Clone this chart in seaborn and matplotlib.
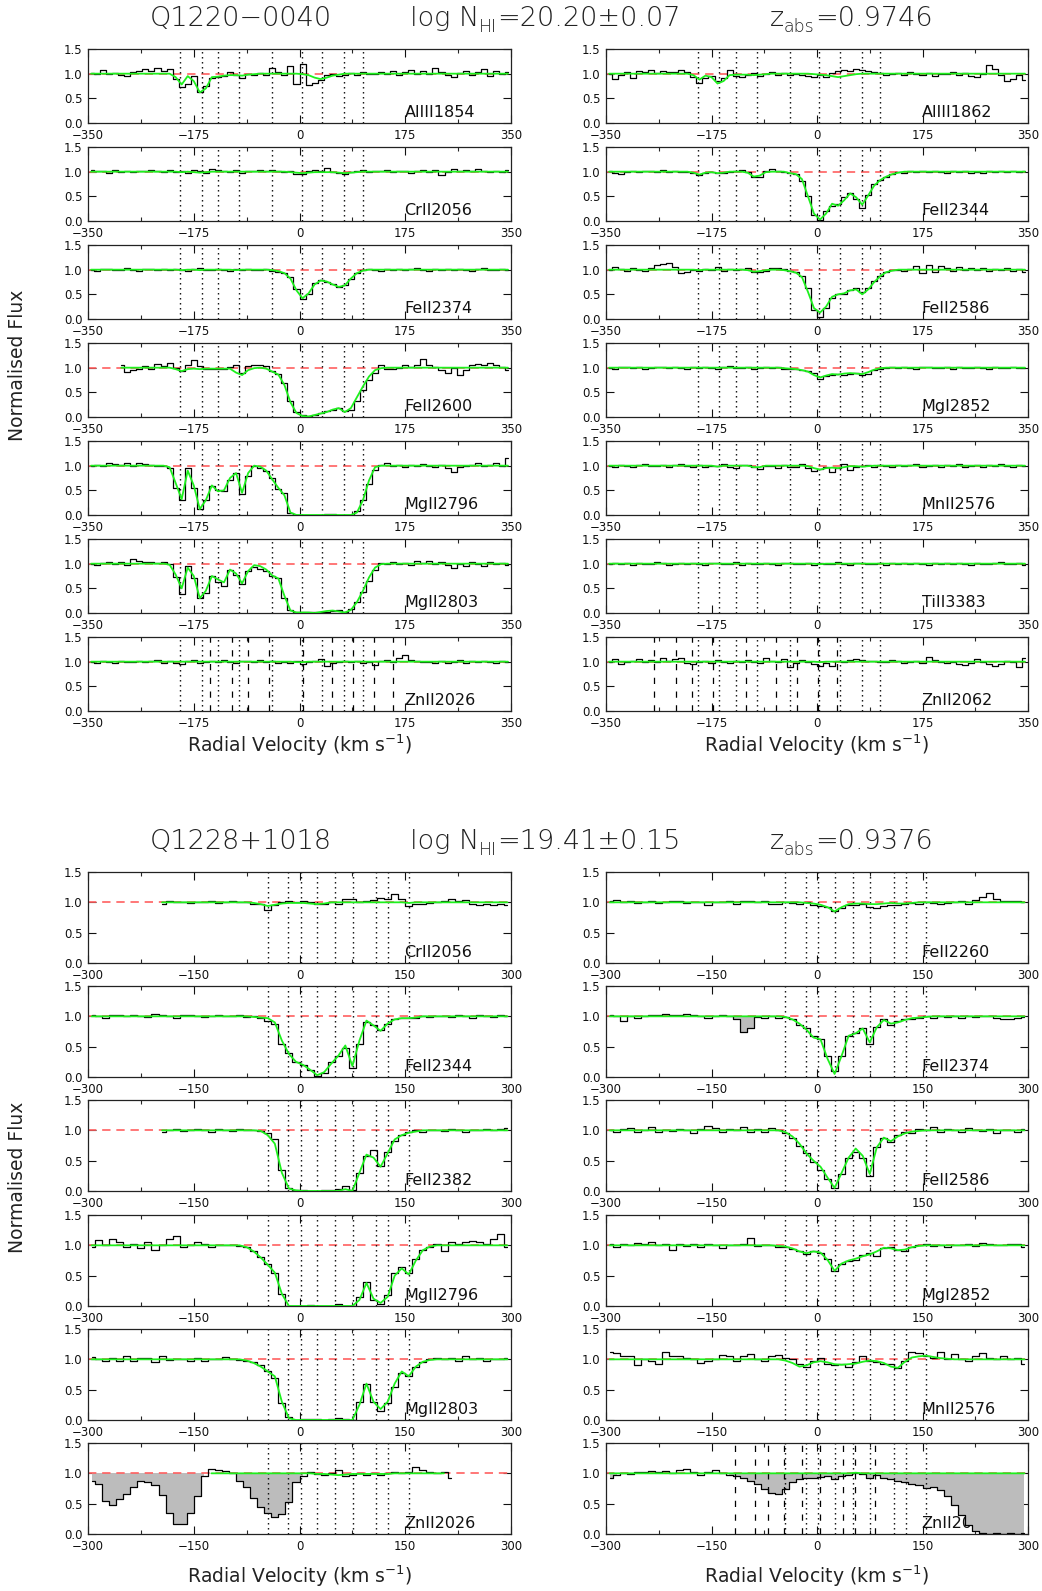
import numpy as np
import matplotlib
matplotlib.use("Agg")
import matplotlib.pyplot as plt
import seaborn as sns
from matplotlib.ticker import FixedLocator, FormatStrFormatter

nan = float("nan")

# ---------------- velocity grids (pixel centres, km/s) ----------------
v_top = np.arange(-345, 350, 10)   # 70 pixels, Q1220-0040
v_bot = np.arange(-295, 300, 10)   # 60 pixels, Q1228+1018

# component velocities (dotted lines)
comp_top = [-198, -162, -135, -100, -45, 4, 38, 74, 105]
comp_bot = [-45, -16, 2, 25, 51, 76, 109, 126, 155]
# blended-line component positions (dashed lines)
mgi_in_zn2026_top = [-148, -112, -85, -50, 5, 54, 88, 124, 155]
cr_in_zn2062_top = [-270, -234, -207, -172, -117, -68, -34, 2, 33]
cr_in_zn2062_bot = [-117, -88, -70, -47, -21, 4, 37, 54, 83]

# ---------------- Q1220-0040 spectra ----------------
alIII1854_f = [1.02, 1.00, 1.08, 1.00, 1.02, 0.97, 0.95, 1.03, 1.05, 1.10,
               1.06, 1.12, 1.05, 1.09, 0.90, 0.72, 0.80, 0.95, 0.62, 0.75,
               0.92, 0.94, 0.96, 1.03, 0.97, 0.92, 1.00, 0.97, 1.02, 0.98,
               1.12, 1.03, 0.98, 1.15, 0.80, 1.20, 0.78, 0.82, 0.88, 0.97,
               1.00, 0.95, 0.98, 1.02, 0.97, 1.03, 1.00, 0.99, 1.03, 1.00,
               1.05, 0.98, 1.03, 1.08, 1.00, 1.05, 0.99, 1.12, 1.04, 0.97,
               0.94, 1.02, 1.06, 0.98, 1.03, 1.10, 0.96, 1.05, 0.99, 1.04]
alIII1854_m = [1.00, 1.00, 1.00, 1.00, 1.00, 1.00, 1.00, 1.00, 1.00, 1.00,
               1.00, 1.00, 1.00, 1.00, 0.93, 0.78, 0.95, 0.85, 0.62, 0.70,
               0.93, 0.94, 0.96, 0.97, 0.97, 0.96, 0.98, 0.99, 1.00, 1.00,
               1.00, 1.00, 1.00, 1.00, 1.00, 0.99, 0.97, 0.92, 0.89, 0.92,
               0.96, 0.98, 1.00, 1.00, 1.00, 1.00, 1.00, 1.00, 1.00, 1.00,
               1.00, 1.00, 1.00, 1.00, 1.00, 1.00, 1.00, 1.00, 1.00, 1.00,
               1.00, 1.00, 1.00, 1.00, 1.00, 1.00, 1.00, 1.00, 1.00, 1.00]

alIII1862_f = [1.00, 0.90, 0.97, 1.03, 0.92, 1.05, 1.03, 1.08, 1.02, 1.06,
               1.03, 1.04, 1.08, 1.03, 0.93, 0.82, 0.92, 0.95, 0.85, 0.92,
               1.08, 0.95, 0.93, 0.98, 1.02, 0.95, 1.00, 1.04, 0.98, 1.02,
               0.98, 1.00, 0.97, 0.95, 0.93, 0.97, 0.94, 1.02, 1.05, 1.08,
               1.06, 1.10, 1.07, 1.05, 1.04, 1.02, 0.98, 1.00, 1.02, 0.97,
               1.03, 1.00, 0.98, 1.02, 0.96, 1.00, 0.99, 1.03, 0.97, 1.02,
               0.95, 0.93, 1.00, 1.17, 1.10, 0.98, 0.86, 0.90, 0.97, 0.88]
alIII1862_m = [1.00, 1.00, 1.00, 1.00, 1.00, 1.00, 1.00, 1.00, 1.00, 1.00,
               1.00, 1.00, 1.00, 1.00, 0.97, 0.88, 0.96, 0.93, 0.80, 0.85,
               0.97, 0.98, 0.98, 0.98, 0.97, 0.98, 0.99, 1.00, 1.00, 1.00,
               1.00, 1.00, 1.00, 1.00, 0.99, 0.98, 0.97, 0.95, 0.93, 0.95,
               0.97, 0.99, 1.00, 1.00, 1.00, 1.00, 1.00, 1.00, 1.00, 1.00,
               1.00, 1.00, 1.00, 1.00, 1.00, 1.00, 1.00, 1.00, 1.00, 1.00,
               1.00, 1.00, 1.00, 1.00, 1.00, 1.00, 1.00, 1.00, 1.00, 1.00]

crII2056_t_f = [1.03, 1.01, 1.02, 0.97, 1.03, 1.00, 1.02, 0.99, 1.02, 1.01,
                1.03, 1.02, 1.00, 1.03, 0.99, 1.01, 0.98, 1.03, 1.02, 0.98,
                1.05, 1.03, 1.02, 0.99, 1.03, 0.98, 1.02, 1.01, 1.04, 1.02,
                1.03, 1.01, 1.00, 1.02, 0.96, 0.96, 1.02, 1.03, 1.01, 1.07,
                1.00, 0.98, 0.96, 1.00, 1.02, 1.03, 1.00, 1.02, 1.01, 1.04,
                0.99, 1.02, 1.01, 0.98, 1.02, 1.03, 1.00, 1.03, 0.93, 1.00,
                1.06, 1.02, 1.04, 1.01, 1.06, 1.02, 0.99, 1.02, 1.00, 1.03]
crII2056_t_m = [1.00, 1.00, 1.00, 1.00, 1.00, 1.00, 1.00, 1.00, 1.00, 1.00,
                1.00, 1.00, 1.00, 1.00, 1.00, 0.99, 1.00, 0.99, 0.98, 0.99,
                1.00, 1.00, 1.00, 1.00, 1.00, 1.00, 1.00, 1.00, 1.00, 1.00,
                1.00, 1.00, 1.00, 0.99, 0.98, 0.97, 0.98, 0.99, 0.99, 0.99,
                0.99, 0.98, 0.97, 0.98, 0.99, 1.00, 1.00, 1.00, 1.00, 1.00,
                1.00, 1.00, 1.00, 1.00, 1.00, 1.00, 1.00, 1.00, 1.00, 1.00,
                1.00, 1.00, 1.00, 1.00, 1.00, 1.00, 1.00, 1.00, 1.00, 1.00]

feII2344_t_f = [1.02, 0.98, 0.96, 1.00, 1.01, 1.00, 1.02, 1.01, 1.00, 1.03,
                1.00, 1.02, 1.00, 0.99, 0.97, 0.93, 0.98, 1.00, 0.97, 0.98,
                1.00, 1.02, 1.03, 0.99, 0.90, 0.90, 1.02, 1.05, 1.01, 1.00,
                0.98, 0.96, 0.82, 0.50, 0.12, 0.03, 0.20, 0.30, 0.34, 0.48,
                0.57, 0.45, 0.26, 0.52, 0.74, 0.83, 0.90, 0.96, 1.00, 0.98,
                1.02, 1.00, 1.01, 1.00, 1.02, 1.00, 0.98, 1.02, 1.00, 1.01,
                0.97, 1.00, 0.98, 1.02, 1.00, 1.02, 0.99, 1.01, 1.00, 1.01]
feII2344_t_m = [1.00, 1.00, 1.00, 1.00, 1.00, 1.00, 1.00, 1.00, 1.00, 1.00,
                1.00, 1.00, 1.00, 1.00, 0.98, 0.94, 0.98, 0.99, 0.97, 0.98,
                1.00, 1.00, 1.00, 0.98, 0.90, 0.92, 0.99, 1.00, 1.00, 1.00,
                0.97, 0.95, 0.85, 0.50, 0.15, 0.03, 0.15, 0.35, 0.31, 0.42,
                0.56, 0.48, 0.33, 0.52, 0.72, 0.83, 0.90, 0.95, 0.98, 1.00,
                1.00, 1.00, 1.00, 1.00, 1.00, 1.00, 1.00, 1.00, 1.00, 1.00,
                1.00, 1.00, 1.00, 1.00, 1.00, 1.00, 1.00, 1.00, 1.00, 1.00]

feII2374_t_f = [1.00, 0.98, 1.01, 1.02, 0.99, 1.00, 1.03, 1.00, 0.98, 1.01,
                1.02, 1.00, 1.01, 0.99, 1.02, 1.00, 0.98, 1.01, 1.03, 1.00,
                0.99, 1.01, 1.00, 0.98, 1.02, 1.00, 1.01, 0.99, 1.00, 1.02,
                0.98, 0.96, 0.93, 0.85, 0.60, 0.40, 0.50, 0.72, 0.80, 0.76,
                0.70, 0.64, 0.68, 0.82, 0.94, 0.99, 1.02, 1.00, 0.98, 1.01,
                1.00, 1.02, 0.99, 1.01, 1.03, 1.00, 0.98, 1.02, 1.00, 1.01,
                0.99, 1.02, 1.00, 0.98, 1.01, 1.03, 1.00, 0.99, 1.02, 1.00]
feII2374_t_m = [1.00, 1.00, 1.00, 1.00, 1.00, 1.00, 1.00, 1.00, 1.00, 1.00,
                1.00, 1.00, 1.00, 1.00, 1.00, 0.99, 1.00, 1.00, 0.99, 1.00,
                1.00, 1.00, 1.00, 1.00, 0.99, 1.00, 1.00, 1.00, 1.00, 1.00,
                0.99, 0.97, 0.93, 0.82, 0.58, 0.42, 0.52, 0.70, 0.78, 0.76,
                0.70, 0.65, 0.68, 0.82, 0.93, 0.98, 1.00, 1.00, 1.00, 1.00,
                1.00, 1.00, 1.00, 1.00, 1.00, 1.00, 1.00, 1.00, 1.00, 1.00,
                1.00, 1.00, 1.00, 1.00, 1.00, 1.00, 1.00, 1.00, 1.00, 1.00]

feII2586_t_f = [1.00, 1.05, 1.02, 0.97, 1.03, 1.00, 0.98, 1.04, 1.10, 1.12,
                1.13, 1.05, 0.94, 0.96, 1.00, 0.97, 1.02, 1.00, 1.05, 0.98,
                1.02, 0.99, 1.01, 1.04, 0.96, 0.95, 0.98, 1.04, 1.03, 1.02,
                0.97, 0.95, 0.88, 0.62, 0.18, 0.04, 0.22, 0.42, 0.50, 0.50,
                0.58, 0.62, 0.55, 0.62, 0.78, 0.88, 0.95, 0.99, 1.00, 0.98,
                1.02, 1.08, 0.93, 1.10, 0.95, 1.08, 1.03, 0.97, 1.05, 0.99,
                1.04, 1.00, 1.03, 0.97, 1.02, 0.99, 1.03, 0.98, 1.02, 0.95]
feII2586_t_m = [1.00, 1.00, 1.00, 1.00, 1.00, 1.00, 1.00, 1.00, 1.00, 1.00,
                1.00, 1.00, 1.00, 1.00, 1.00, 0.99, 1.00, 1.00, 1.00, 1.00,
                1.00, 1.00, 1.00, 0.99, 0.96, 0.97, 0.99, 1.00, 1.00, 0.99,
                0.97, 0.94, 0.85, 0.55, 0.22, 0.13, 0.25, 0.45, 0.50, 0.52,
                0.58, 0.60, 0.50, 0.60, 0.75, 0.87, 0.95, 0.98, 1.00, 1.00,
                1.00, 1.00, 1.00, 1.00, 1.00, 1.00, 1.00, 1.00, 1.00, 1.00,
                1.00, 1.00, 1.00, 1.00, 1.00, 1.00, 1.00, 1.00, 1.00, 1.00]

feII2600_t_f = [nan, nan, nan, nan, nan, 1.05, 0.92, 0.96, 0.98, 1.04,
                0.98, 1.07, 1.04, 1.10, 1.00, 0.93, 1.05, 1.15, 1.04, 0.98,
                0.97, 0.97, 0.98, 1.02, 1.06, 0.90, 1.03, 1.05, 1.05, 1.03,
                0.93, 0.88, 0.68, 0.32, 0.10, 0.05, 0.03, 0.05, 0.08, 0.12,
                0.15, 0.18, 0.12, 0.15, 0.32, 0.55, 0.75, 0.90, 1.05, 0.97,
                0.98, 1.00, 1.05, 1.02, 1.06, 1.18, 1.05, 1.02, 0.95, 0.90,
                1.00, 0.85, 0.95, 1.05, 1.08, 1.05, 1.10, 1.06, 1.02, 0.95]
feII2600_t_m = [nan, nan, nan, nan, nan, 1.00, 1.00, 1.00, 1.00, 1.00,
                1.00, 1.00, 1.00, 1.00, 0.97, 0.93, 0.97, 0.98, 0.97, 0.98,
                0.98, 0.98, 0.98, 0.98, 0.90, 0.85, 0.95, 0.99, 1.00, 0.98,
                0.92, 0.86, 0.65, 0.30, 0.08, 0.02, 0.01, 0.04, 0.07, 0.10,
                0.15, 0.18, 0.10, 0.18, 0.40, 0.62, 0.82, 0.95, 0.99, 1.00,
                1.00, 1.00, 1.00, 1.00, 1.00, 1.00, 1.00, 1.00, 1.00, 1.00,
                1.00, 1.00, 1.00, 1.00, 1.00, 1.00, 1.00, 1.00, 1.00, 1.00]

mgI2852_t_f = [1.00, 0.98, 1.01, 1.02, 0.99, 1.01, 0.98, 1.00, 1.02, 1.01,
               0.99, 1.02, 1.00, 0.98, 1.01, 0.99, 1.02, 1.00, 0.98, 1.01,
               1.03, 0.99, 1.00, 1.02, 0.98, 0.99, 1.01, 1.00, 1.02, 0.97,
               0.98, 0.97, 0.95, 0.93, 0.90, 0.78, 0.84, 0.86, 0.88, 0.85,
               0.87, 0.90, 0.86, 0.88, 0.95, 0.98, 1.00, 1.02, 0.99, 1.01,
               1.00, 0.98, 1.01, 1.02, 0.99, 1.00, 1.01, 0.98, 1.02, 1.00,
               0.99, 1.01, 1.00, 0.98, 1.02, 1.00, 0.99, 1.01, 1.00, 0.99]
mgI2852_t_m = [1.00, 1.00, 1.00, 1.00, 1.00, 1.00, 1.00, 1.00, 1.00, 1.00,
               1.00, 1.00, 1.00, 1.00, 1.00, 1.00, 1.00, 1.00, 1.00, 1.00,
               1.00, 1.00, 1.00, 1.00, 1.00, 1.00, 1.00, 1.00, 1.00, 0.99,
               0.98, 0.97, 0.95, 0.92, 0.85, 0.80, 0.84, 0.87, 0.86, 0.88,
               0.89, 0.88, 0.87, 0.91, 0.96, 0.99, 1.00, 1.00, 1.00, 1.00,
               1.00, 1.00, 1.00, 1.00, 1.00, 1.00, 1.00, 1.00, 1.00, 1.00,
               1.00, 1.00, 1.00, 1.00, 1.00, 1.00, 1.00, 1.00, 1.00, 1.00]

mgII2796_t_f = [1.00, 1.02, 1.00, 1.05, 1.03, 1.02, 1.06, 1.00, 1.05, 1.03,
                1.01, 1.00, 1.00, 0.95, 0.55, 0.30, 0.95, 0.55, 0.12, 0.30,
                0.58, 0.50, 0.48, 0.70, 0.85, 0.42, 0.80, 1.00, 0.95, 0.90,
                0.75, 0.52, 0.45, 0.05, 0.00, 0.00, 0.00, 0.00, 0.01, 0.02,
                0.03, 0.01, 0.00, 0.01, 0.08, 0.30, 0.62, 0.92, 1.02, 1.05,
                1.00, 1.02, 0.98, 1.02, 1.00, 1.03, 1.00, 0.98, 1.02, 0.95,
                0.88, 0.98, 1.00, 1.02, 1.05, 1.00, 1.02, 1.06, 1.00, 1.15]
mgII2796_t_m = [1.00, 1.00, 1.00, 1.00, 1.00, 1.00, 1.00, 1.00, 1.00, 1.00,
                1.00, 1.00, 1.00, 0.97, 0.65, 0.32, 0.90, 0.60, 0.12, 0.30,
                0.60, 0.48, 0.50, 0.75, 0.85, 0.45, 0.85, 1.00, 0.98, 0.90,
                0.72, 0.55, 0.40, 0.05, 0.00, 0.00, 0.00, 0.00, 0.00, 0.00,
                0.00, 0.00, 0.00, 0.00, 0.05, 0.30, 0.70, 0.97, 1.00, 1.00,
                1.00, 1.00, 1.00, 1.00, 1.00, 1.00, 1.00, 1.00, 1.00, 1.00,
                1.00, 1.00, 1.00, 1.00, 1.00, 1.00, 1.00, 1.00, 1.00, 1.00]

mnII2576_t_f = [1.00, 0.98, 1.02, 1.00, 0.97, 1.01, 1.03, 0.99, 1.00, 1.02,
                0.98, 1.01, 1.03, 0.99, 0.98, 1.02, 0.97, 0.99, 1.00, 1.03,
                0.98, 0.96, 1.01, 1.02, 0.97, 0.93, 0.99, 1.00, 0.95, 1.02,
                0.98, 0.97, 1.03, 0.95, 0.90, 0.93, 0.97, 0.88, 0.95, 1.04,
                0.92, 0.97, 0.99, 1.01, 0.98, 1.02, 1.00, 0.97, 1.02, 0.99,
                1.01, 1.03, 0.98, 1.00, 1.02, 0.97, 1.01, 0.99, 1.03, 0.98,
                1.00, 1.02, 0.97, 1.01, 0.99, 1.03, 1.00, 0.98, 1.02, 0.99]
mnII2576_t_m = [1.00, 1.00, 1.00, 1.00, 1.00, 1.00, 1.00, 1.00, 1.00, 1.00,
                1.00, 1.00, 1.00, 1.00, 1.00, 1.00, 1.00, 1.00, 0.98, 1.00,
                1.00, 1.00, 1.00, 1.00, 0.97, 0.97, 1.00, 1.00, 1.00, 1.00,
                1.00, 1.00, 1.00, 0.99, 0.95, 0.92, 0.95, 0.96, 0.95, 0.97,
                0.99, 0.99, 0.98, 0.99, 1.00, 1.00, 1.00, 1.00, 1.00, 1.00,
                1.00, 1.00, 1.00, 1.00, 1.00, 1.00, 1.00, 1.00, 1.00, 1.00,
                1.00, 1.00, 1.00, 1.00, 1.00, 1.00, 1.00, 1.00, 1.00, 1.00]

mgII2803_t_f = [1.00, 0.97, 1.02, 1.04, 1.00, 1.04, 0.97, 1.10, 1.05, 1.03,
                1.04, 1.02, 1.04, 1.00, 0.72, 0.38, 0.95, 0.70, 0.30, 0.40,
                0.75, 0.62, 0.55, 0.88, 0.78, 0.58, 0.85, 0.93, 0.90, 0.85,
                0.76, 0.70, 0.30, 0.06, 0.02, 0.02, 0.03, 0.02, 0.02, 0.03,
                0.05, 0.06, 0.02, 0.08, 0.22, 0.42, 0.65, 0.88, 1.02, 1.00,
                1.03, 1.00, 1.02, 0.98, 1.06, 1.02, 1.05, 1.00, 1.03, 0.97,
                0.92, 1.00, 0.95, 1.04, 1.00, 0.96, 1.03, 1.00, 1.02, 0.97]
mgII2803_t_m = [1.00, 1.00, 1.00, 1.00, 1.00, 1.00, 1.00, 1.00, 1.00, 1.00,
                1.00, 1.00, 1.00, 0.98, 0.78, 0.50, 0.92, 0.75, 0.30, 0.45,
                0.75, 0.68, 0.62, 0.88, 0.80, 0.60, 0.85, 0.97, 0.95, 0.88,
                0.76, 0.70, 0.35, 0.05, 0.01, 0.01, 0.01, 0.00, 0.02, 0.04,
                0.05, 0.03, 0.01, 0.06, 0.22, 0.45, 0.72, 0.92, 0.99, 1.00,
                1.00, 1.00, 1.00, 1.00, 1.00, 1.00, 1.00, 1.00, 1.00, 1.00,
                1.00, 1.00, 1.00, 1.00, 1.00, 1.00, 1.00, 1.00, 1.00, 1.00]

tiII3383_t_f = [1.00, 1.02, 0.99, 1.01, 0.98, 1.02, 1.00, 0.99, 1.03, 1.01,
                0.98, 1.00, 1.02, 0.99, 1.01, 1.00, 0.98, 1.02, 1.01, 0.99,
                1.00, 1.03, 0.98, 1.01, 1.00, 0.99, 1.02, 1.00, 0.98, 1.01,
                1.02, 0.99, 1.00, 1.01, 0.98, 1.02, 1.00, 0.99, 1.03, 1.00,
                0.98, 1.01, 1.02, 1.00, 0.99, 1.01, 0.98, 1.02, 1.00, 1.01,
                0.99, 1.02, 1.00, 0.98, 1.01, 1.00, 1.02, 0.99, 1.01, 1.00,
                0.98, 1.02, 1.00, 0.99, 1.01, 1.03, 0.99, 1.00, 1.02, 0.98]
tiII3383_t_m = [1.00, 1.00, 1.00, 1.00, 1.00, 1.00, 1.00, 1.00, 1.00, 1.00,
                1.00, 1.00, 1.00, 1.00, 1.00, 1.00, 1.00, 1.00, 1.00, 1.00,
                1.00, 1.00, 1.00, 1.00, 1.00, 1.00, 1.00, 1.00, 1.00, 1.00,
                1.00, 1.00, 1.00, 1.00, 1.00, 0.99, 1.00, 1.00, 1.00, 1.00,
                1.00, 1.00, 1.00, 1.00, 1.00, 1.00, 1.00, 1.00, 1.00, 1.00,
                1.00, 1.00, 1.00, 1.00, 1.00, 1.00, 1.00, 1.00, 1.00, 1.00,
                1.00, 1.00, 1.00, 1.00, 1.00, 1.00, 1.00, 1.00, 1.00, 1.00]

znII2026_t_f = [1.00, 0.98, 1.02, 1.00, 0.97, 1.01, 1.00, 0.99, 1.02, 1.00,
                1.01, 1.03, 0.98, 1.02, 0.97, 0.96, 1.01, 1.03, 0.98, 1.00,
                1.02, 0.99, 1.03, 1.00, 0.97, 1.01, 1.02, 1.00, 1.03, 0.99,
                1.01, 0.98, 1.00, 0.97, 1.02, 0.96, 0.99, 1.01, 1.05, 0.92,
                0.98, 1.00, 1.02, 0.99, 1.01, 0.97, 1.00, 0.93, 1.02, 1.04,
                1.00, 1.08, 1.13, 1.03, 1.01, 0.99, 1.00, 0.98, 1.02, 0.97,
                1.00, 1.03, 0.98, 1.01, 0.99, 1.02, 1.00, 0.97, 1.01, 1.00]
znII2026_t_m = [1.00, 1.00, 1.00, 1.00, 1.00, 1.00, 1.00, 1.00, 1.00, 1.00,
                1.00, 1.00, 1.00, 1.00, 1.00, 1.00, 1.00, 1.00, 1.00, 1.00,
                1.00, 1.00, 1.00, 1.00, 1.00, 1.00, 1.00, 1.00, 1.00, 1.00,
                1.00, 1.00, 1.00, 1.00, 0.99, 0.99, 1.00, 1.00, 1.00, 1.00,
                1.00, 1.00, 1.00, 1.00, 1.00, 1.00, 1.00, 1.00, 1.00, 1.00,
                1.00, 1.00, 1.00, 1.00, 1.00, 1.00, 1.00, 1.00, 1.00, 1.00,
                1.00, 1.00, 1.00, 1.00, 1.00, 1.00, 1.00, 1.00, 1.00, 1.00]

znII2062_t_f = [1.00, 1.06, 0.95, 1.00, 1.02, 1.05, 0.99, 1.03, 1.00, 1.08,
                1.02, 1.06, 1.08, 0.98, 0.95, 1.00, 1.02, 0.97, 1.04, 1.00,
                0.98, 1.01, 0.99, 1.03, 1.00, 0.98, 1.07, 1.02, 1.00, 1.05,
                0.90, 0.97, 1.04, 1.00, 0.96, 0.92, 0.97, 0.92, 1.02, 1.00,
                1.04, 1.06, 1.03, 1.01, 1.02, 0.99, 1.00, 1.03, 1.01, 0.98,
                1.00, 1.02, 0.97, 1.10, 1.03, 1.00, 0.97, 0.99, 0.95, 0.94,
                0.97, 1.06, 1.00, 0.95, 0.92, 0.96, 1.02, 0.99, 0.90, 1.07]
znII2062_t_m = [1.00, 1.00, 1.00, 1.00, 1.00, 1.00, 1.00, 1.00, 1.00, 1.00,
                1.00, 1.00, 1.00, 1.00, 1.00, 1.00, 1.00, 1.00, 1.00, 1.00,
                1.00, 1.00, 1.00, 1.00, 1.00, 1.00, 1.00, 1.00, 1.00, 1.00,
                1.00, 1.00, 1.00, 1.00, 1.00, 0.99, 1.00, 1.00, 1.00, 1.00,
                1.00, 1.00, 1.00, 1.00, 1.00, 1.00, 1.00, 1.00, 1.00, 1.00,
                1.00, 1.00, 1.00, 1.00, 1.00, 1.00, 1.00, 1.00, 1.00, 1.00,
                1.00, 1.00, 1.00, 1.00, 1.00, 1.00, 1.00, 1.00, 1.00, 1.00]

# ---------------- Q1228+1018 spectra ----------------
crII2056_b_f = [nan, nan, nan, nan, nan, nan, nan, nan, nan, nan,
                0.97, 1.02, 1.00, 1.01, 0.99, 1.01, 1.00, 1.02, 0.99, 1.00,
                1.02, 1.00, 1.01, 0.98, 0.97, 0.88, 0.95, 1.00, 1.03, 1.01,
                1.03, 1.00, 0.97, 0.98, 1.01, 0.97, 1.05, 1.05, 1.00, 1.03,
                1.04, 1.07, 1.05, 1.13, 1.05, 0.94, 0.97, 0.98, 0.99, 1.00,
                1.03, 1.05, 1.03, 1.04, 0.97, 0.95, 0.97, 0.95, 0.97, 0.95]
crII2056_b_m = [nan, nan, nan, nan, nan, nan, nan, nan, nan, nan,
                1.00, 1.00, 1.00, 1.00, 1.00, 1.00, 1.00, 1.00, 1.00, 1.00,
                1.00, 1.00, 1.00, 0.99, 0.97, 0.94, 0.96, 0.98, 0.99, 0.99,
                0.99, 0.98, 0.97, 0.98, 1.00, 1.00, 1.00, 1.00, 1.00, 1.00,
                1.00, 1.00, 1.00, 1.00, 1.00, 0.99, 1.00, 1.00, 1.00, 1.00,
                1.00, 1.00, 1.00, 1.00, 1.00, 1.00, 1.00, 1.00, 1.00, 1.00]

feII2260_b_f = [1.02, 1.04, 1.00, 1.02, 0.99, 1.01, 1.03, 0.99, 1.00, 1.02,
                1.03, 0.99, 1.01, 1.00, 0.96, 1.01, 1.00, 1.03, 0.98, 1.02,
                1.03, 1.00, 1.03, 0.98, 0.97, 1.00, 0.99, 0.98, 1.00, 0.96,
                0.94, 0.92, 0.86, 0.90, 0.96, 0.95, 0.97, 0.93, 0.91, 0.94,
                0.96, 0.95, 0.97, 0.99, 0.98, 1.00, 0.99, 0.97, 0.99, 1.00,
                1.02, 0.97, 1.04, 1.08, 1.16, 1.05, 1.03, 1.03, 1.02, 1.00]
feII2260_b_m = [1.00, 1.00, 1.00, 1.00, 1.00, 1.00, 1.00, 1.00, 1.00, 1.00,
                1.00, 1.00, 1.00, 1.00, 1.00, 1.00, 1.00, 1.00, 1.00, 1.00,
                1.00, 1.00, 1.00, 1.00, 1.00, 1.00, 1.00, 1.00, 0.99, 0.98,
                0.96, 0.92, 0.85, 0.92, 0.97, 0.98, 0.98, 0.97, 0.97, 0.98,
                0.99, 0.98, 0.98, 0.99, 1.00, 1.00, 1.00, 1.00, 1.00, 1.00,
                1.00, 1.00, 1.00, 1.00, 1.00, 1.00, 1.00, 1.00, 1.00, 1.00]

feII2344_b_f = [1.02, 1.01, 0.98, 1.03, 1.02, 1.00, 1.03, 1.01, 0.99, 1.04,
                1.02, 1.00, 0.98, 1.03, 1.02, 1.01, 0.99, 1.00, 1.03, 1.00,
                1.01, 1.03, 0.99, 1.00, 0.98, 0.93, 0.88, 0.55, 0.40, 0.25,
                0.20, 0.12, 0.02, 0.06, 0.25, 0.35, 0.48, 0.15, 0.55, 0.90,
                0.86, 0.78, 0.88, 0.95, 0.97, 0.98, 0.97, 1.00, 0.99, 1.01,
                1.00, 0.99, 1.02, 1.00, 0.98, 1.03, 1.00, 0.99, 1.02, 1.01]
feII2344_b_m = [1.00, 1.00, 1.00, 1.00, 1.00, 1.00, 1.00, 1.00, 1.00, 1.00,
                1.00, 1.00, 1.00, 1.00, 1.00, 1.00, 1.00, 1.00, 1.00, 1.00,
                1.00, 1.00, 1.00, 0.99, 0.98, 0.97, 0.90, 0.60, 0.38, 0.25,
                0.20, 0.12, 0.03, 0.08, 0.22, 0.35, 0.52, 0.18, 0.60, 0.93,
                0.85, 0.76, 0.88, 0.95, 0.97, 0.97, 0.98, 1.00, 1.00, 1.00,
                1.00, 1.00, 1.00, 1.00, 1.00, 1.00, 1.00, 1.00, 1.00, 1.00]

feII2374_b_f = [1.02, 1.00, 0.93, 1.01, 0.98, 1.00, 1.03, 1.02, 1.04, 1.03,
                1.02, 1.04, 1.03, 1.01, 0.98, 1.00, 1.02, 1.00, 0.95, 0.75,
                0.80, 0.99, 0.98, 1.01, 0.97, 0.99, 0.95, 0.86, 0.80, 0.68,
                0.62, 0.35, 0.10, 0.35, 0.68, 0.72, 0.80, 0.55, 0.82, 0.95,
                0.85, 0.92, 0.95, 0.96, 0.98, 1.00, 0.98, 1.00, 0.99, 1.01,
                0.98, 1.00, 0.99, 1.01, 1.00, 0.98, 0.96, 0.95, 0.97, 0.99]
feII2374_b_m = [1.00, 1.00, 1.00, 1.00, 1.00, 1.00, 1.00, 1.00, 1.00, 1.00,
                1.00, 1.00, 1.00, 1.00, 1.00, 1.00, 1.00, 1.00, 1.00, 1.00,
                1.00, 1.00, 1.00, 1.00, 1.00, 0.99, 0.95, 0.88, 0.78, 0.65,
                0.62, 0.30, 0.05, 0.35, 0.68, 0.72, 0.80, 0.57, 0.82, 0.94,
                0.88, 0.90, 0.94, 0.97, 0.98, 0.99, 1.00, 1.00, 1.00, 1.00,
                1.00, 1.00, 1.00, 1.00, 1.00, 1.00, 1.00, 1.00, 1.00, 1.00]

feII2382_b_f = [nan, nan, nan, nan, nan, nan, nan, nan, nan, nan,
                0.98, 1.00, 1.02, 0.99, 1.01, 1.03, 1.00, 0.98, 1.02, 1.00,
                0.99, 1.03, 1.01, 1.00, 0.99, 0.95, 0.85, 0.35, 0.05, 0.02,
                0.01, 0.00, 0.00, 0.01, 0.02, 0.03, 0.08, 0.02, 0.30, 0.58,
                0.68, 0.42, 0.65, 0.82, 0.92, 0.97, 1.00, 0.98, 1.01, 1.00,
                0.99, 1.02, 1.00, 0.98, 1.01, 1.00, 1.03, 1.01, 1.02, 1.04]
feII2382_b_m = [nan, nan, nan, nan, nan, nan, nan, nan, nan, nan,
                1.00, 1.00, 1.00, 1.00, 1.00, 1.00, 1.00, 1.00, 1.00, 1.00,
                1.00, 1.00, 1.00, 1.00, 0.99, 0.92, 0.78, 0.30, 0.04, 0.01,
                0.00, 0.00, 0.00, 0.00, 0.00, 0.00, 0.03, 0.00, 0.30, 0.60,
                0.55, 0.40, 0.62, 0.85, 0.92, 0.96, 0.98, 1.00, 1.00, 1.00,
                1.00, 1.00, 1.00, 1.00, 1.00, 1.00, 1.00, 1.00, 1.00, 1.00]

feII2586_b_f = [1.00, 0.97, 1.02, 1.04, 0.98, 1.00, 1.05, 0.97, 1.01, 0.99,
                1.03, 1.00, 0.96, 1.02, 1.07, 1.04, 0.98, 1.03, 1.00, 1.05,
                0.97, 1.02, 0.98, 1.04, 1.00, 0.96, 0.88, 0.75, 0.62, 0.48,
                0.35, 0.20, 0.05, 0.28, 0.55, 0.65, 0.55, 0.25, 0.72, 0.88,
                0.80, 0.92, 0.97, 0.95, 1.02, 1.00, 1.05, 0.97, 1.03, 1.00,
                0.98, 1.04, 1.00, 0.99, 1.03, 0.96, 1.01, 1.00, 0.98, 1.02]
feII2586_b_m = [1.00, 1.00, 1.00, 1.00, 1.00, 1.00, 1.00, 1.00, 1.00, 1.00,
                1.00, 1.00, 1.00, 1.00, 1.00, 1.00, 1.00, 1.00, 1.00, 1.00,
                1.00, 1.00, 1.00, 1.00, 1.00, 0.97, 0.90, 0.78, 0.62, 0.50,
                0.40, 0.22, 0.05, 0.30, 0.55, 0.70, 0.58, 0.28, 0.72, 0.88,
                0.82, 0.90, 0.95, 0.98, 0.99, 1.00, 1.00, 1.00, 1.00, 1.00,
                1.00, 1.00, 1.00, 1.00, 1.00, 1.00, 1.00, 1.00, 1.00, 1.00]

mgII2796_b_f = [0.98, 1.08, 1.00, 1.10, 1.06, 0.98, 1.02, 0.95, 1.05, 0.93,
                1.00, 1.10, 1.15, 0.97, 1.00, 1.05, 1.02, 0.98, 1.01, 1.00,
                1.00, 0.99, 0.98, 0.90, 0.80, 0.70, 0.55, 0.20, 0.00, 0.00,
                0.00, 0.02, 0.00, 0.00, 0.00, 0.03, 0.00, 0.00, 0.15, 0.40,
                0.10, 0.04, 0.18, 0.55, 0.65, 0.55, 0.78, 0.93, 0.97, 1.02,
                0.90, 1.05, 1.02, 1.05, 1.07, 1.05, 1.02, 1.10, 1.18, 0.98]
mgII2796_b_m = [1.00, 1.00, 1.00, 1.00, 1.00, 1.00, 1.00, 1.00, 1.00, 1.00,
                1.00, 1.00, 1.00, 1.00, 1.00, 1.00, 1.00, 1.00, 1.00, 1.00,
                1.00, 1.00, 0.97, 0.90, 0.80, 0.68, 0.55, 0.20, 0.00, 0.00,
                0.00, 0.00, 0.00, 0.00, 0.00, 0.00, 0.00, 0.00, 0.10, 0.38,
                0.12, 0.05, 0.15, 0.50, 0.62, 0.52, 0.75, 0.92, 0.98, 1.00,
                1.00, 1.00, 1.00, 1.00, 1.00, 1.00, 1.00, 1.00, 1.00, 1.00]

mgI2852_b_f = [1.02, 0.97, 1.03, 1.00, 1.04, 1.02, 1.05, 1.00, 1.02, 0.93,
               1.03, 0.99, 1.02, 0.98, 1.03, 1.00, 0.96, 1.01, 1.00, 1.03,
               1.12, 0.99, 1.00, 1.01, 0.98, 0.98, 0.94, 0.90, 0.85, 0.90,
               0.88, 0.78, 0.58, 0.70, 0.75, 0.76, 0.84, 0.88, 0.82, 0.95,
               0.97, 0.92, 0.90, 0.98, 1.00, 1.03, 0.99, 1.00, 0.98, 1.01,
               1.00, 1.03, 0.99, 1.04, 1.02, 1.00, 1.01, 1.03, 1.02, 0.98]
mgI2852_b_m = [1.00, 1.00, 1.00, 1.00, 1.00, 1.00, 1.00, 1.00, 1.00, 1.00,
               1.00, 1.00, 1.00, 1.00, 1.00, 1.00, 1.00, 1.00, 1.00, 1.00,
               1.00, 1.00, 1.00, 1.00, 0.99, 0.98, 0.95, 0.90, 0.87, 0.90,
               0.88, 0.76, 0.58, 0.70, 0.75, 0.78, 0.82, 0.85, 0.90, 0.96,
               0.95, 0.92, 0.93, 0.97, 0.99, 1.00, 1.00, 1.00, 1.00, 1.00,
               1.00, 1.00, 1.00, 1.00, 1.00, 1.00, 1.00, 1.00, 1.00, 1.00]

mgII2803_b_f = [1.04, 1.00, 0.98, 1.03, 0.98, 1.05, 0.97, 1.02, 1.03, 0.96,
                1.05, 0.99, 1.00, 1.01, 0.97, 1.02, 0.98, 1.00, 1.01, 1.04,
                1.00, 0.99, 0.98, 0.95, 0.90, 0.80, 0.70, 0.28, 0.05, 0.00,
                0.02, 0.02, 0.01, 0.00, 0.02, 0.03, 0.02, 0.00, 0.30, 0.60,
                0.30, 0.15, 0.28, 0.55, 0.78, 0.72, 0.88, 0.95, 1.00, 1.02,
                1.00, 1.03, 0.98, 1.05, 1.00, 1.02, 0.97, 1.01, 1.00, 1.02]
mgII2803_b_m = [1.00, 1.00, 1.00, 1.00, 1.00, 1.00, 1.00, 1.00, 1.00, 1.00,
                1.00, 1.00, 1.00, 1.00, 1.00, 1.00, 1.00, 1.00, 1.00, 1.00,
                1.00, 1.00, 0.98, 0.94, 0.88, 0.80, 0.72, 0.30, 0.03, 0.00,
                0.00, 0.00, 0.00, 0.00, 0.00, 0.00, 0.00, 0.00, 0.25, 0.60,
                0.30, 0.18, 0.30, 0.60, 0.80, 0.72, 0.88, 0.96, 0.99, 1.00,
                1.00, 1.00, 1.00, 1.00, 1.00, 1.00, 1.00, 1.00, 1.00, 1.00]

mnII2576_b_f = [1.12, 1.10, 1.06, 1.05, 0.90, 1.00, 0.98, 0.92, 1.12, 1.06,
                1.05, 1.02, 1.00, 0.94, 0.98, 1.00, 1.07, 1.05, 0.98, 1.05,
                1.08, 1.00, 0.98, 1.06, 1.07, 1.02, 1.00, 0.93, 0.88, 0.97,
                1.03, 0.92, 0.90, 0.93, 0.88, 0.95, 1.05, 0.98, 0.96, 0.93,
                0.92, 0.85, 0.98, 1.12, 1.10, 1.06, 1.02, 1.12, 1.00, 1.08,
                1.00, 0.97, 1.05, 1.10, 1.02, 1.00, 1.05, 1.00, 1.03, 0.93]
mnII2576_b_m = [1.00, 1.00, 1.00, 1.00, 1.00, 1.00, 1.00, 1.00, 1.00, 1.00,
                1.00, 1.00, 1.00, 1.00, 1.00, 1.00, 1.00, 1.00, 1.00, 1.00,
                1.00, 1.00, 1.00, 1.00, 1.00, 0.98, 0.94, 0.88, 0.90, 0.95,
                0.97, 0.95, 0.92, 0.91, 0.92, 0.93, 0.96, 0.98, 0.97, 0.94,
                0.88, 0.86, 0.96, 1.03, 1.05, 1.06, 1.04, 1.02, 1.01, 1.00,
                1.00, 1.00, 1.00, 1.00, 1.00, 1.00, 1.00, 1.00, 1.00, 1.00]

znII2026_b_f = [0.88, 0.82, 0.55, 0.48, 0.58, 0.66, 0.78, 0.88, 0.86, 0.80,
                0.65, 0.35, 0.17, 0.16, 0.35, 0.62, 0.95, 1.07, 1.05, 1.04,
                1.00, 0.88, 0.78, 0.60, 0.45, 0.35, 0.28, 0.33, 0.52, 0.85,
                0.95, 1.03, 0.99, 0.97, 1.00, 1.05, 0.96, 0.98, 1.00, 0.97,
                1.00, 0.98, 1.00, 1.02, 1.00, 1.03, 1.10, 1.05, 1.02, 1.00,
                1.03, 0.93, nan, nan, nan, nan, nan, nan, nan, nan]
znII2026_b_m = [nan, nan, nan, nan, nan, nan, nan, nan, nan, nan,
                nan, nan, nan, nan, nan, nan, nan, 1.00, 1.00, 1.00,
                1.00, 1.00, 1.00, 1.00, 1.00, 1.00, 1.00, 1.00, 1.00, 1.00,
                1.00, 1.00, 0.99, 0.99, 0.98, 0.97, 0.98, 0.99, 0.99, 0.99,
                0.99, 0.99, 0.99, 1.00, 1.00, 1.00, 1.00, 1.00, 1.00, 1.00,
                1.00, nan, nan, nan, nan, nan, nan, nan, nan, nan]

znII2062_b_f = [0.93, 0.97, 1.00, 0.99, 1.02, 1.03, 1.04, 1.02, 1.04, 1.00,
                1.05, 1.07, 1.02, 0.97, 1.02, 1.05, 1.00, 0.98, 0.96, 0.93,
                0.88, 0.82, 0.75, 0.67, 0.66, 0.75, 0.85, 0.90, 0.92, 0.93,
                0.94, 0.95, 0.90, 0.96, 0.98, 1.00, 0.99, 0.92, 0.97, 0.93,
                0.90, 0.88, 0.86, 0.83, 0.80, 0.76, 0.77, 0.72, 0.62, 0.48,
                0.32, 0.15, 0.05, 0.01, 0.00, 0.01, 0.00, 0.02, 0.00, 0.01]
znII2062_b_m = [1.00, 1.00, 1.00, 1.00, 1.00, 1.00, 1.00, 1.00, 1.00, 1.00,
                1.00, 1.00, 1.00, 1.00, 1.00, 1.00, 1.00, 1.00, 1.00, 1.00,
                1.00, 1.00, 1.00, 1.00, 1.00, 1.00, 1.00, 1.00, 1.00, 1.00,
                1.00, 1.00, 1.00, 1.00, 1.00, 1.01, 1.00, 1.00, 1.00, 1.00,
                1.00, 1.00, 1.00, 1.00, 1.00, 1.00, 1.00, 1.00, 1.00, 1.00,
                1.00, 1.00, 1.00, 1.00, 1.00, 1.00, 1.00, 1.00, 1.00, 1.00]

# blended (shaded) velocity windows
blend_feII2374_b = [(-125, -85)]
blend_znII2026_b = [(-300, -135), (-95, 0)]
blend_znII2062_b = [(-300, -288), (-125, 300)]

# ---------------- style ----------------
sns.set_theme(style="ticks")
plt.rcParams["font.family"] = ["DejaVu Sans"]
plt.rcParams["axes.unicode_minus"] = True

W, H = 1042, 1591
fig = plt.figure(figsize=(W / 100, H / 100), dpi=100)
fig.patch.set_facecolor("white")

GREEN = "#1ef01e"
RED = "#ff6060"
GRAY = "#bcbcbc"

COLS = [(88, 511), (606, 1028)]
TOP_TOPS = [49, 147, 245, 343, 441, 539, 637]
TOP_H = 74
BOT_TOPS = [872, 986, 1100, 1215, 1329, 1443]
BOT_H = 91


def make_ax(col, top, h):
    x0, x1 = COLS[col]
    return fig.add_axes([x0 / W, 1 - (top + h) / H, (x1 - x0) / W, h / H])


def draw_panel(ax, v, flux, model, label, lim, major, minor, comps,
               dashed=None, blends=()):
    f = np.array(flux, dtype=float)
    m = np.array(model, dtype=float)
    ax.set_xlim(-lim, lim)
    ax.set_ylim(0, 1.5)
    ax.set_facecolor("white")
    ax.text(0.748, 0.035, label, transform=ax.transAxes, fontsize=11.5,
            ha="left", va="bottom", color="#111111", zorder=0.5)
    for a, b in blends:
        sel = (v >= a - 5) & (v <= b + 5) & ~np.isnan(f)
        ax.fill_between(v, np.minimum(np.nan_to_num(f, nan=1.0), 1.0), 1.0,
                        where=sel, step="mid", color=GRAY, lw=0, zorder=1)
    ax.axhline(1.0, color=RED, lw=1.2, ls=(0, (5, 3.5)), zorder=2)
    for c in comps:
        ax.axvline(c, color="black", lw=1.0, ls=(0, (1, 2.6)), zorder=2)
    if dashed is not None:
        for c in dashed:
            ax.axvline(c, color="black", lw=0.9, ls=(0, (5, 6)), zorder=2)
    ok = ~np.isnan(f)
    sns.lineplot(x=v[ok], y=f[ok], ax=ax, drawstyle="steps-mid", color="black",
                 linewidth=0.9, estimator=None, sort=False, zorder=3)
    okm = ~np.isnan(m)
    sns.lineplot(x=v[okm], y=m[okm], ax=ax, color=GREEN, linewidth=1.3,
                 estimator=None, sort=False, zorder=4)
    ax.set_xlabel("")
    ax.set_ylabel("")
    ax.xaxis.set_major_locator(FixedLocator(major))
    ax.xaxis.set_minor_locator(FixedLocator(minor))
    ax.yaxis.set_major_locator(FixedLocator([0.0, 0.5, 1.0, 1.5]))
    ax.yaxis.set_major_formatter(FormatStrFormatter("%.1f"))
    ax.tick_params(axis="both", which="major", direction="in", top=True,
                   right=True, length=6, width=0.8, labelsize=8.5, pad=4,
                   colors="#111111")
    ax.tick_params(axis="x", which="minor", direction="in", top=True,
                   bottom=True, length=3, width=0.8)
    for s in ax.spines.values():
        s.set_linewidth(0.9)
        s.set_color("#222222")
        s.set_visible(True)


top_major = [-350, -175, 0, 175, 350]
top_minor = [-262.5, -87.5, 87.5, 262.5]
bot_major = [-300, -150, 0, 150, 300]
bot_minor = [-225, -75, 75, 225]

top_panels = [
    (0, 0, alIII1854_f, alIII1854_m, "AlIII1854", None),
    (1, 0, alIII1862_f, alIII1862_m, "AlIII1862", None),
    (0, 1, crII2056_t_f, crII2056_t_m, "CrII2056", None),
    (1, 1, feII2344_t_f, feII2344_t_m, "FeII2344", None),
    (0, 2, feII2374_t_f, feII2374_t_m, "FeII2374", None),
    (1, 2, feII2586_t_f, feII2586_t_m, "FeII2586", None),
    (0, 3, feII2600_t_f, feII2600_t_m, "FeII2600", None),
    (1, 3, mgI2852_t_f, mgI2852_t_m, "MgI2852", None),
    (0, 4, mgII2796_t_f, mgII2796_t_m, "MgII2796", None),
    (1, 4, mnII2576_t_f, mnII2576_t_m, "MnII2576", None),
    (0, 5, mgII2803_t_f, mgII2803_t_m, "MgII2803", None),
    (1, 5, tiII3383_t_f, tiII3383_t_m, "TiII3383", None),
    (0, 6, znII2026_t_f, znII2026_t_m, "ZnII2026", mgi_in_zn2026_top),
    (1, 6, znII2062_t_f, znII2062_t_m, "ZnII2062", cr_in_zn2062_top),
]
for col, row, f, m, lab, dsh in top_panels:
    ax = make_ax(col, TOP_TOPS[row], TOP_H)
    draw_panel(ax, v_top, f, m, lab, 350, top_major, top_minor, comp_top, dsh)

bot_panels = [
    (0, 0, crII2056_b_f, crII2056_b_m, "CrII2056", None, ()),
    (1, 0, feII2260_b_f, feII2260_b_m, "FeII2260", None, ()),
    (0, 1, feII2344_b_f, feII2344_b_m, "FeII2344", None, ()),
    (1, 1, feII2374_b_f, feII2374_b_m, "FeII2374", None, blend_feII2374_b),
    (0, 2, feII2382_b_f, feII2382_b_m, "FeII2382", None, ()),
    (1, 2, feII2586_b_f, feII2586_b_m, "FeII2586", None, ()),
    (0, 3, mgII2796_b_f, mgII2796_b_m, "MgII2796", None, ()),
    (1, 3, mgI2852_b_f, mgI2852_b_m, "MgI2852", None, ()),
    (0, 4, mgII2803_b_f, mgII2803_b_m, "MgII2803", None, ()),
    (1, 4, mnII2576_b_f, mnII2576_b_m, "MnII2576", None, ()),
    (0, 5, znII2026_b_f, znII2026_b_m, "ZnII2026", None, blend_znII2026_b),
    (1, 5, znII2062_b_f, znII2062_b_m, "ZnII2062", cr_in_zn2062_bot, blend_znII2062_b),
]
for col, row, f, m, lab, dsh, bl in bot_panels:
    ax = make_ax(col, BOT_TOPS[row], BOT_H)
    draw_panel(ax, v_bot, f, m, lab, 300, bot_major, bot_minor, comp_bot, dsh, bl)

# ---------------- titles & axis labels ----------------
TFS = 19.5
SFS = 12.5
renderer = fig.canvas.get_renderer()


def seq_text(x_px, y_px, pieces):
    """Write text pieces one after another (subscripts as smaller, lowered pieces)."""
    x = x_px
    for s, fs, dy in pieces:
        t = fig.text(x / W, 1 - (y_px + dy) / H, s, fontsize=fs, ha="left",
                     va="baseline", color="#222222", fontweight="light")
        x += t.get_window_extent(renderer).width


title_rows = [
    (26, "Q1220\u22120040", "=20.20\u00b10.07", "=0.9746"),
    (849, "Q1228+1018", "=19.41\u00b10.15", "=0.9376"),
]
for y_px, name, nhi, zabs in title_rows:
    seq_text(150, y_px, [(name, TFS, 0)])
    seq_text(410, y_px, [("log N", TFS, 0), ("HI", SFS, 6), (nhi, TFS, 0)])
    seq_text(770, y_px, [("z", TFS, 0), ("abs", SFS, 6), (zabs, TFS, 0)])

for yc in [365, 1177]:
    fig.text(18 / W, 1 - yc / H, "Normalised Flux", rotation=90, fontsize=13.5,
             ha="center", va="center", color="#222222")

for xc in [300, 817]:
    for yc in [745, 1576]:
        fig.text(xc / W, 1 - yc / H, r"Radial Velocity (km s$^{-1}$)",
                 fontsize=13.5, ha="center", va="center", color="#222222")

fig.savefig("out.png", dpi=100, facecolor="white")
